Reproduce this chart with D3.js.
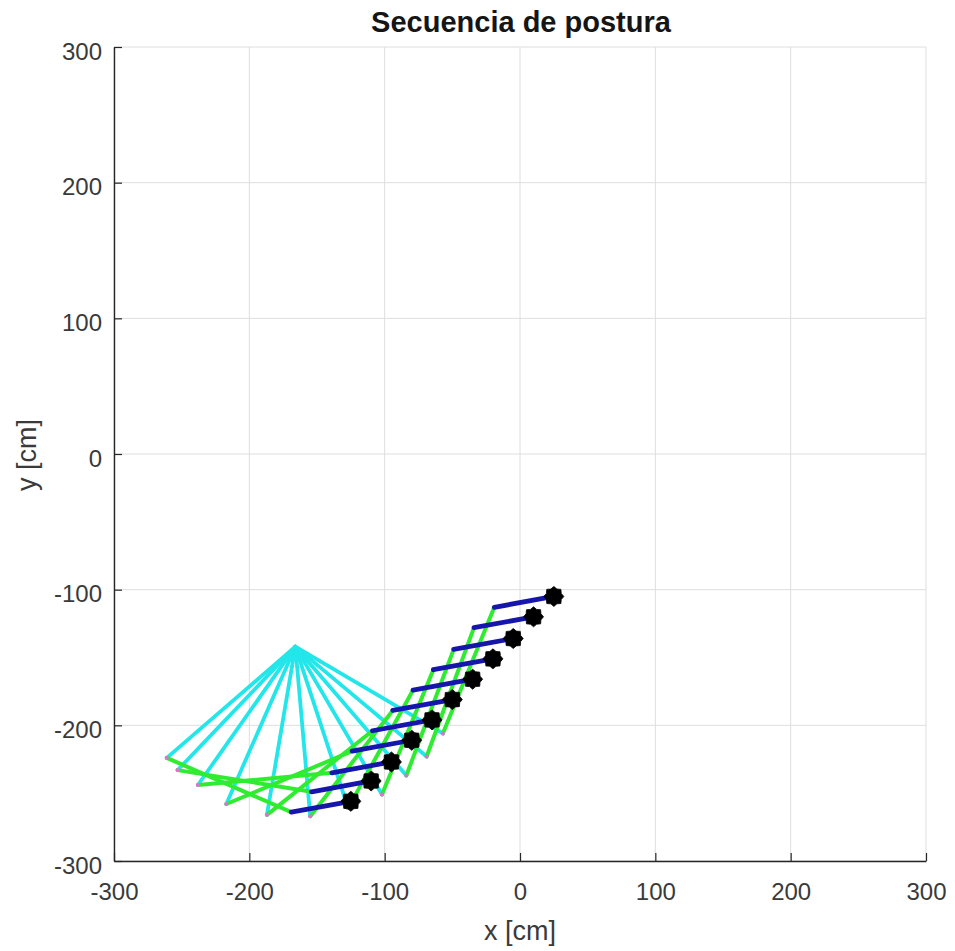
<!DOCTYPE html>
<html>
<head>
<meta charset="utf-8">
<script src="https://cdn.jsdelivr.net/npm/d3@7"></script>
<style>
  html, body { margin: 0; padding: 0; background: #fff; }
  svg { display: block; }
</style>
</head>
<body>
<svg id="chart" width="955" height="951"></svg>
<script>
// ---- data ----
const titleText = "Secuencia de postura";
const xLabelText = "x [cm]";
const yLabelText = "y [cm]";
const xTicks = [-300, -200, -100, 0, 100, 200, 300];
const yTicks = [-300, -200, -100, 0, 100, 200, 300];

// base (black markers)
const baseX = [25, 10, -5, -20, -35, -50, -65, -80, -95, -110, -125];
const baseY = [-105, -120, -136, -151, -166, -181, -196, -211, -227, -241, -256];
// first joint (end of blue link)
const elbowX = [-19, -34, -49, -64, -79, -94, -109, -124, -139, -154, -169];
const elbowY = [-113, -128, -144, -159, -174, -189, -204, -219, -235, -249, -264];
// second joint (end of green link, pink marker)
const wristX = [-57, -69, -84, -102, -127, -155, -187, -217, -238, -253, -261];
const wristY = [-206, -223, -237, -251, -261, -267, -266, -258, -244, -233, -224];
// common end point of cyan links
const tipX = [-166];
const tipY = [-142];

// ---- layout ----
const svg = d3.select("#chart");
const W = 955, H = 951;
svg.append("rect").attr("width", W).attr("height", H).attr("fill", "#fff");

const x = d3.scaleLinear().domain([-300, 300]).range([114, 926]);
const y = d3.scaleLinear().domain([-300, 300]).range([861, 47]);

const FONT = "'Liberation Sans', Arial, Helvetica, sans-serif";
const gridColor = "#dedede";
const axisColor = "#262626";

// grid
const grid = svg.append("g");
grid.selectAll("line.gx").data(xTicks).enter().append("line")
  .attr("x1", d => x(d)).attr("x2", d => x(d))
  .attr("y1", y(-300)).attr("y2", y(300))
  .attr("stroke", gridColor).attr("stroke-width", 1);
grid.selectAll("line.gy").data(yTicks).enter().append("line")
  .attr("x1", x(-300)).attr("x2", x(300))
  .attr("y1", d => y(d)).attr("y2", d => y(d))
  .attr("stroke", gridColor).attr("stroke-width", 1);

// frames
const idx = d3.range(baseX.length);
const plot = svg.append("g");

// cyan links: wrist -> tip
plot.selectAll("line.cyan").data(idx).enter().append("line")
  .attr("x1", i => x(wristX[i])).attr("y1", i => y(wristY[i]))
  .attr("x2", x(tipX[0])).attr("y2", y(tipY[0]))
  .attr("stroke", "#22e6ea").attr("stroke-width", 3.8).attr("stroke-linecap", "round");

// green links: elbow -> wrist
plot.selectAll("line.green").data(idx).enter().append("line")
  .attr("x1", i => x(elbowX[i])).attr("y1", i => y(elbowY[i]))
  .attr("x2", i => x(wristX[i])).attr("y2", i => y(wristY[i]))
  .attr("stroke", "#30ec30").attr("stroke-width", 4).attr("stroke-linecap", "round");

// blue links: base -> elbow
plot.selectAll("line.blue").data(idx).enter().append("line")
  .attr("x1", i => x(baseX[i])).attr("y1", i => y(baseY[i]))
  .attr("x2", i => x(elbowX[i])).attr("y2", i => y(elbowY[i]))
  .attr("stroke", "#1616ac").attr("stroke-width", 4.8).attr("stroke-linecap", "round");

// pink markers at wrist
plot.selectAll("circle.pink").data(idx).enter().append("circle")
  .attr("cx", i => x(wristX[i])).attr("cy", i => y(wristY[i]))
  .attr("r", 2).attr("fill", "#e070d8");

// black gear-like markers at base
function gearPath(rOut, rIn, n) {
  const pts = [];
  for (let k = 0; k < 2 * n; k++) {
    const a = Math.PI * k / n;
    const r = k % 2 === 0 ? rOut : rIn;
    pts.push([r * Math.cos(a), r * Math.sin(a)]);
  }
  return d3.line().curve(d3.curveLinearClosed)(pts);
}
const gear = gearPath(10, 8, 8);
plot.selectAll("path.base").data(idx).enter().append("path")
  .attr("d", gear)
  .attr("transform", i => `translate(${x(baseX[i])},${y(baseY[i])})`)
  .attr("fill", "#000").attr("stroke", "#000").attr("stroke-width", 0.8)
  .attr("stroke-linejoin", "round");

// axes
const fmt = d => String(d);
const xAxis = d3.axisBottom(x).tickValues(xTicks).tickFormat(fmt)
  .tickSizeInner(-8).tickSizeOuter(0).tickPadding(22);
const yAxis = d3.axisLeft(y).tickValues(yTicks).tickFormat(fmt)
  .tickSizeInner(-8).tickSizeOuter(0).tickPadding(12);

const gx = svg.append("g").attr("transform", `translate(0,${y(-300)})`).call(xAxis);
const gy = svg.append("g").attr("transform", `translate(${x(-300)},0)`).call(yAxis);

[gx, gy].forEach(g => {
  g.select(".domain").attr("stroke", axisColor).attr("stroke-width", 1.4);
  g.selectAll(".tick line").attr("stroke", axisColor).attr("stroke-width", 1.2);
  g.selectAll(".tick text").attr("fill", "#3a3a3a")
    .attr("font-family", FONT).attr("font-size", 24);
});
gy.selectAll(".tick text").attr("dy", "0.5em");

// title & labels
svg.append("text").attr("x", 521).attr("y", 31.5)
  .attr("text-anchor", "middle").attr("font-family", FONT)
  .attr("font-weight", "bold").attr("font-size", 29).attr("fill", "#151515")
  .text(titleText);

svg.append("text").attr("x", 520).attr("y", 940)
  .attr("text-anchor", "middle").attr("font-family", FONT)
  .attr("font-size", 27).attr("fill", "#3a3a3a")
  .text(xLabelText);

svg.append("text").attr("transform", "translate(36,455) rotate(-90)")
  .attr("text-anchor", "middle").attr("font-family", FONT)
  .attr("font-size", 27).attr("fill", "#3a3a3a")
  .text(yLabelText);
</script>
</body>
</html>
